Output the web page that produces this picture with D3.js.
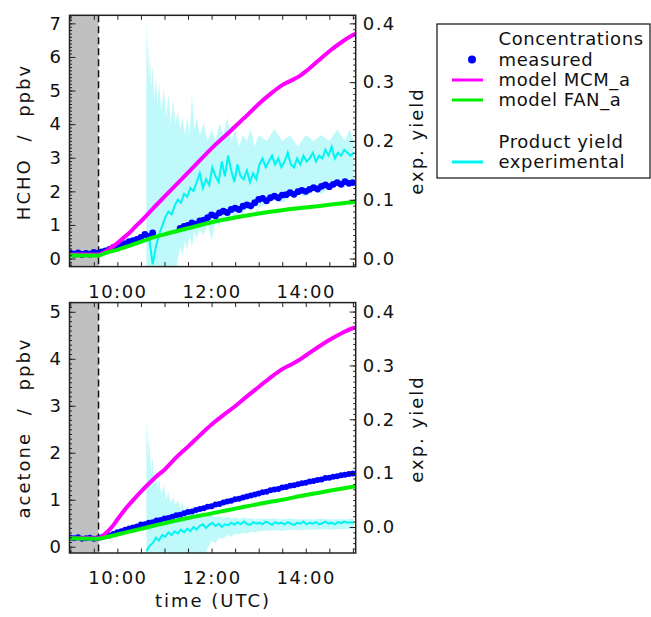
<!DOCTYPE html>
<html>
<head>
<meta charset="utf-8">
<script src="https://cdn.jsdelivr.net/npm/d3@7/dist/d3.min.js"></script>
<style>
  body { margin: 0; background: #fff; }
  text { font-family: "DejaVu Sans", sans-serif; }
</style>
</head>
<body>
<div id="chart"></div>
<script>
// all times are minutes after 09:00 UTC
const chamberOpen = 36;               // dashed line, end of the dark (grey) period
const xTicks = [0, 30, 60, 90, 120, 150, 180, 210, 240, 270, 300, 330, 360];
const xLabelMinutes = [60, 180, 300];
const xLabelText = ["10:00", "12:00", "14:00"];

// ---- HCHO panel ----
const hchoMeasured = [[0,0.16],[5,0.13],[10,0.17],[15,0.12],[20,0.15],[25,0.13],[30,0.18],[35,0.15],
  [40,0.2],[45,0.23],[50,0.27],[55,0.33],[60,0.36],[65,0.41],[70,0.44],[75,0.5],[80,0.53],[85,0.57],
  [90,0.63],[95,0.72],[100,0.66],[105,0.76],[140,0.9],[145,0.96],[150,0.99],[155,1.06],[160,1.02],
  [165,1.12],[170,1.14],[175,1.22],[180,1.3],[185,1.27],[190,1.36],[195,1.41],[200,1.37],[205,1.46],
  [210,1.5],[215,1.46],[220,1.56],[225,1.6],[230,1.57],[235,1.66],[240,1.76],[245,1.79],[250,1.72],
  [255,1.81],[260,1.86],[265,1.81],[270,1.89],[275,1.9],[280,1.96],[285,1.91],[290,1.99],[295,2.03],
  [300,2.0],[305,2.06],[310,2.11],[315,2.07],[320,2.15],[325,2.19],[330,2.14],[335,2.21],[340,2.26],
  [345,2.21],[350,2.29],[355,2.24],[360,2.26]];
const hchoMCM = [[-1,0.12],[36,0.12],[42,0.17],[48,0.26],[54,0.36],[60,0.46],[67,0.6],[75,0.76],[82,0.93],
  [90,1.11],[105,1.48],[120,1.84],[135,2.2],[150,2.56],[165,2.92],[180,3.28],[195,3.6],[210,3.93],
  [225,4.26],[240,4.6],[255,4.9],[270,5.16],[285,5.34],[292,5.43],[300,5.57],[315,5.87],[330,6.17],
  [345,6.43],[360,6.65],[364,6.7]];
const hchoFAN = [[-1,0.1],[36,0.09],[45,0.17],[60,0.26],[75,0.38],[90,0.5],[105,0.62],[120,0.72],
  [150,0.9],[180,1.08],[210,1.22],[240,1.34],[270,1.44],[300,1.52],[330,1.6],[364,1.69]];
const hchoYield = [[97,0.045],[101,0.03],[105,-0.01],[109,0.02],[113,0.04],[117,0.055],[121,0.07],
  [125,0.08],[129,0.075],[133,0.09],[137,0.1],[141,0.095],[145,0.11],[149,0.105],[153,0.12],[157,0.115],
  [161,0.13],[165,0.145],[169,0.12],[173,0.135],[177,0.125],[181,0.155],[185,0.14],[189,0.13],[193,0.165],
  [197,0.14],[201,0.175],[205,0.15],[209,0.13],[213,0.16],[217,0.14],[221,0.135],[225,0.15],[229,0.13],
  [233,0.145],[237,0.135],[241,0.16],[245,0.17],[249,0.155],[253,0.165],[257,0.175],[261,0.16],[265,0.17],
  [269,0.155],[273,0.165],[277,0.18],[281,0.16],[285,0.155],[289,0.17],[293,0.16],[297,0.175],[301,0.165],
  [305,0.17],[309,0.18],[313,0.165],[317,0.175],[321,0.17],[325,0.185],[329,0.175],[333,0.19],[337,0.17],
  [341,0.18],[345,0.175],[349,0.185],[353,0.18],[357,0.175],[361,0.18]];
// [time, lower, upper] of the yield uncertainty
const hchoYieldBand = [[97,-0.05,0.43],[98,-0.05,0.34],[99,-0.05,0.38],[100,-0.05,0.3],[101,-0.05,0.35],
  [103,-0.05,0.29],[105,-0.05,0.33],[107,-0.05,0.27],[109,-0.05,0.31],[111,-0.05,0.26],[113,-0.04,0.3],
  [116,-0.05,0.25],[119,-0.03,0.29],[122,-0.05,0.24],[125,-0.02,0.28],[128,-0.04,0.23],[131,-0.01,0.27],
  [134,-0.03,0.23],[137,0.0,0.25],[140,0.02,0.22],[143,0.005,0.24],[146,0.03,0.21],[149,0.015,0.24],
  [152,0.04,0.21],[155,0.02,0.28],[158,0.045,0.22],[161,0.035,0.24],[165,0.05,0.21],[170,0.04,0.23],
  [175,0.06,0.2],[180,0.03,0.22],[185,0.065,0.2],[190,0.055,0.23],[195,0.07,0.21],[200,0.06,0.24],
  [205,0.075,0.2],[210,0.07,0.22],[215,0.08,0.19],[220,0.075,0.21],[225,0.085,0.2],[230,0.08,0.22],
  [235,0.09,0.19],[240,0.085,0.21],[250,0.095,0.2],[260,0.1,0.22],[270,0.095,0.2],[280,0.105,0.21],
  [290,0.11,0.19],[300,0.105,0.21],[310,0.115,0.2],[320,0.11,0.21],[330,0.12,0.2],[340,0.125,0.22],
  [350,0.12,0.2],[356,0.13,0.22],[361,0.125,0.2]];

// ---- acetone panel ----
const acetoneMeasured = [[0,0.19],[5,0.18],[10,0.2],[15,0.17],[20,0.18],[25,0.19],[30,0.17],[35,0.18],
  [40,0.2],[45,0.22],[50,0.24],[55,0.27],[60,0.31],[65,0.33],[70,0.36],[75,0.39],[80,0.41],[85,0.43],
  [90,0.47],[95,0.48],[100,0.51],[105,0.52],[110,0.56],[115,0.57],[120,0.6],[125,0.61],[130,0.64],
  [135,0.67],[140,0.68],[145,0.71],[150,0.74],[155,0.75],[160,0.78],[165,0.8],[170,0.82],[175,0.85],
  [180,0.86],[185,0.9],[190,0.91],[195,0.94],[200,0.96],[205,0.98],[210,1.01],[215,1.02],[220,1.05],
  [225,1.07],[230,1.09],[235,1.11],[240,1.13],[245,1.16],[250,1.17],[255,1.2],[260,1.22],[265,1.23],
  [270,1.26],[275,1.27],[280,1.3],[285,1.31],[290,1.33],[295,1.35],[300,1.36],[305,1.39],[310,1.4],
  [315,1.42],[320,1.43],[325,1.46],[330,1.47],[335,1.49],[340,1.5],[345,1.52],[350,1.53],[355,1.55],
  [360,1.56]];
const acetoneMCM = [[-1,0.18],[36,0.18],[42,0.24],[48,0.33],[54,0.44],[60,0.58],[70,0.8],[80,0.99],
  [90,1.17],[100,1.34],[110,1.5],[120,1.64],[135,1.9],[150,2.13],[165,2.37],[180,2.6],[195,2.8],
  [210,2.99],[225,3.2],[240,3.4],[255,3.6],[270,3.78],[285,3.91],[292,3.98],[300,4.07],[315,4.24],
  [330,4.4],[345,4.54],[360,4.65],[364,4.67]];
const acetoneFAN = [[-1,0.18],[36,0.17],[45,0.2],[60,0.26],[75,0.32],[90,0.38],[105,0.44],[120,0.5],
  [150,0.61],[180,0.71],[210,0.81],[240,0.91],[270,1.0],[300,1.1],[330,1.19],[364,1.29]];
const acetoneYield = [[97,-0.045],[101,-0.035],[105,-0.03],[109,-0.02],[113,-0.025],[117,-0.015],
  [121,-0.018],[125,-0.01],[129,-0.015],[133,-0.008],[137,-0.012],[141,-0.005],[145,-0.01],[149,-0.003],
  [153,-0.008],[157,0.0],[161,-0.005],[165,0.002],[169,0.005],[173,-0.002],[177,0.004],[181,0.008],
  [185,0.002],[189,0.006],[193,0.0],[197,0.005],[201,0.003],[205,0.008],[209,0.004],[213,0.009],
  [217,0.005],[221,0.01],[225,0.006],[229,0.004],[233,0.009],[237,0.006],[241,0.008],[245,0.005],
  [249,0.01],[253,0.007],[257,0.004],[261,0.009],[265,0.006],[269,0.008],[273,0.005],[277,0.009],
  [281,0.006],[285,0.004],[289,0.008],[293,0.006],[297,0.01],[301,0.005],[305,0.008],[309,0.006],
  [313,0.009],[317,0.005],[321,0.007],[325,0.01],[329,0.006],[333,0.008],[337,0.005],[341,0.009],
  [345,0.007],[349,0.01],[353,0.008],[357,0.009],[361,0.008]];
const acetoneYieldBand = [[97,-0.06,0.21],[98,-0.06,0.15],[99,-0.06,0.19],[100,-0.06,0.12],[101,-0.06,0.16],
  [103,-0.06,0.1],[105,-0.06,0.13],[107,-0.06,0.08],[109,-0.06,0.11],[111,-0.06,0.07],[113,-0.06,0.09],
  [116,-0.06,0.06],[119,-0.06,0.08],[122,-0.06,0.05],[125,-0.06,0.065],[128,-0.06,0.045],[131,-0.06,0.055],
  [134,-0.06,0.04],[137,-0.06,0.05],[140,-0.06,0.035],[143,-0.06,0.045],[146,-0.06,0.03],[149,-0.06,0.04],
  [152,-0.06,0.03],[155,-0.06,0.035],[158,-0.06,0.025],[161,-0.06,0.03],[165,-0.06,0.025],[170,-0.06,0.028],
  [175,-0.04,0.02],[180,-0.025,0.022],[185,-0.03,0.018],[190,-0.02,0.02],[195,-0.022,0.016],
  [200,-0.015,0.019],[205,-0.018,0.016],[210,-0.012,0.018],[215,-0.014,0.015],[220,-0.01,0.018],
  [225,-0.012,0.016],[230,-0.009,0.017],[235,-0.01,0.014],[240,-0.008,0.016],[250,-0.007,0.015],
  [260,-0.006,0.016],[270,-0.007,0.014],[280,-0.005,0.016],[290,-0.006,0.014],[300,-0.005,0.015],
  [310,-0.005,0.014],[320,-0.004,0.016],[330,-0.005,0.014],[340,-0.004,0.015],[350,-0.004,0.014],
  [356,-0.003,0.016],[361,-0.004,0.015]];

const hchoTicks = [0, 1, 2, 3, 4, 5, 6, 7];
const acetoneTicks = [0, 1, 2, 3, 4, 5];
const yieldTicks = [0, 0.1, 0.2, 0.3, 0.4];

const W = 651, H = 617;
const FONT = "DejaVu Sans, sans-serif";
const C_MCM = "#ff00ff", C_FAN = "#00f000", C_MEAS = "#0000ff", C_YIELD = "#00f4f4", C_BAND = "#bff9fa";

const svg = d3.select("#chart").append("svg").attr("width", W).attr("height", H);

const x = d3.scaleLinear().domain([-1, 363.6]).range([69.5, 355.7]);

function drawPanel(p) {
    const y = d3.scaleLinear().domain(p.yDomain).range([p.bottom, p.top]);
    const yr = d3.scaleLinear().domain(p.yrDomain).range([p.bottom, p.top]);
    const [x0, x1] = x.range();

    svg.append("clipPath").attr("id", p.id).append("rect")
        .attr("x", x0).attr("y", p.top).attr("width", x1 - x0).attr("height", p.bottom - p.top);
    const plot = svg.append("g").attr("clip-path", `url(#${p.id})`);

    // dark period
    plot.append("rect").attr("x", x0).attr("y", p.top)
        .attr("width", x(chamberOpen) - x0).attr("height", p.bottom - p.top).attr("fill", "#c0c0c0");

    // yield uncertainty and yield
    plot.append("path").datum(p.band)
        .attr("d", d3.area().x(d => x(d[0])).y0(d => yr(d[1])).y1(d => yr(d[2])))
        .attr("fill", C_BAND);
    plot.append("path").datum(p.yieldLine)
        .attr("d", d3.line().x(d => x(d[0])).y(d => yr(d[1])))
        .attr("fill", "none").attr("stroke", C_YIELD).attr("stroke-width", 2);

    // roof opening
    plot.append("line").attr("x1", x(chamberOpen)).attr("x2", x(chamberOpen))
        .attr("y1", p.top).attr("y2", p.bottom)
        .attr("stroke", "#111").attr("stroke-width", 1.5).attr("stroke-dasharray", "7,4");

    // measured
    plot.selectAll("circle.meas").data(p.measured).join("circle")
        .attr("class", "meas")
        .attr("cx", d => x(d[0])).attr("cy", d => y(d[1])).attr("r", p.dotR)
        .attr("fill", C_MEAS);

    // models
    const line = d3.line().x(d => x(d[0])).y(d => y(d[1])).curve(d3.curveMonotoneX);
    plot.append("path").datum(p.mcm).attr("d", line)
        .attr("fill", "none").attr("stroke", C_MCM).attr("stroke-width", 4);
    plot.append("path").datum(p.fan).attr("d", line)
        .attr("fill", "none").attr("stroke", C_FAN).attr("stroke-width", 4);

    // axes (ticks inward)
    const styleAxis = g => {
        g.select(".domain").remove();
        g.attr("font-size", 18).attr("font-family", FONT).attr("color", "#222");
        g.selectAll("text").attr("fill", "#111").attr("letter-spacing", "1.5px");
    };
    const [ylo, yhi] = p.yDomain, [rlo, rhi] = p.yrDomain;
    const leftMinor = d3.range(Math.ceil(ylo * 10), Math.floor(yhi * 10) + 1).map(v => v / 10);
    const rightMinor = d3.range(Math.ceil(rlo * 100), Math.floor(rhi * 100) + 1).map(v => v / 100);

    svg.append("g").attr("transform", `translate(${x0},0)`)
        .call(d3.axisLeft(y).tickValues(leftMinor).tickSize(-2.5).tickFormat(""))
        .call(styleAxis);
    svg.append("g").attr("transform", `translate(${x0},0)`)
        .call(d3.axisLeft(y).tickValues(p.leftTicks).tickSize(-6).tickPadding(7).tickFormat(d3.format("d")))
        .call(styleAxis);
    svg.append("g").attr("transform", `translate(${x1},0)`)
        .call(d3.axisRight(yr).tickValues(rightMinor).tickSize(-2.5).tickFormat(""))
        .call(styleAxis);
    svg.append("g").attr("transform", `translate(${x1},0)`)
        .call(d3.axisRight(yr).tickValues(yieldTicks).tickSize(-6).tickPadding(7).tickFormat(d3.format(".1f")))
        .call(styleAxis);
    svg.append("g").attr("transform", `translate(0,${p.bottom})`)
        .call(d3.axisBottom(x).tickValues(xTicks).tickSize(-4.5).tickPadding(18.5)
            .tickFormat(d => { const i = xLabelMinutes.indexOf(d); return i < 0 ? "" : xLabelText[i]; }))
        .call(styleAxis);
    svg.append("g").attr("transform", `translate(0,${p.top})`)
        .call(d3.axisTop(x).tickValues(xTicks).tickSize(-4.5).tickFormat(""))
        .call(styleAxis);

    // frame
    svg.append("rect").attr("x", x0).attr("y", p.top)
        .attr("width", x1 - x0).attr("height", p.bottom - p.top)
        .attr("fill", "none").attr("stroke", "#222").attr("stroke-width", 1.5);

    // axis titles
    svg.append("text").attr("transform", `translate(29.5,${p.titleY}) rotate(-90)`)
        .attr("text-anchor", "middle").attr("font-size", 18).attr("fill", "#111")
        .attr("letter-spacing", "2px").attr("word-spacing", "9px")
        .text(p.title);
    svg.append("text").attr("transform", `translate(423,${p.rTitleY}) rotate(-90)`)
        .attr("text-anchor", "middle").attr("font-size", 18).attr("fill", "#111")
        .attr("letter-spacing", "2px")
        .text("exp. yield");
}

drawPanel({
    id: "clipTop", top: 15.3, bottom: 266.6,
    yDomain: [-0.24, 7.24], yrDomain: [-0.24 / 17.5, 7.24 / 17.5],
    leftTicks: hchoTicks, dotR: 3.4,
    measured: hchoMeasured, mcm: hchoMCM, fan: hchoFAN,
    yieldLine: hchoYield, band: hchoYieldBand,
    title: "HCHO / ppbv", titleY: 142, rTitleY: 141
});

drawPanel({
    id: "clipBottom", top: 302.6, bottom: 553,
    yDomain: [-0.134, 5.196], yrDomain: [-0.0483, 0.4167],
    leftTicks: acetoneTicks, dotR: 3,
    measured: acetoneMeasured, mcm: acetoneMCM, fan: acetoneFAN,
    yieldLine: acetoneYield, band: acetoneYieldBand,
    title: "acetone / ppbv", titleY: 428, rTitleY: 429
});

svg.append("text").attr("x", 213).attr("y", 607).attr("text-anchor", "middle")
    .attr("font-size", 18).attr("fill", "#111").attr("letter-spacing", "2px")
    .text("time (UTC)");

// Legend
const legend = svg.append("g");
legend.append("rect").attr("x", 437).attr("y", 24).attr("width", 213).attr("height", 154)
    .attr("fill", "#fff").attr("stroke", "#222").attr("stroke-width", 1.3);
const legendRows = [
    { text: "Concentrations", y: 45 },
    { text: "measured", y: 65.5, dot: C_MEAS },
    { text: "model MCM_a", y: 86, line: C_MCM },
    { text: "model FAN_a", y: 106, line: C_FAN },
    { text: "Product yield", y: 147.5 },
    { text: "experimental", y: 168, line: C_YIELD }
];
legendRows.forEach(r => {
    legend.append("text").attr("x", 498.5).attr("y", r.y)
        .attr("font-size", 18).attr("fill", "#111").attr("letter-spacing", "0.6px")
        .text(r.text);
    if (r.line) legend.append("line").attr("x1", 452).attr("x2", 483)
        .attr("y1", r.y - 6).attr("y2", r.y - 6).attr("stroke", r.line).attr("stroke-width", 3);
    if (r.dot) legend.append("circle").attr("cx", 472).attr("cy", r.y - 6).attr("r", 4).attr("fill", r.dot);
});
</script>
</body>
</html>
